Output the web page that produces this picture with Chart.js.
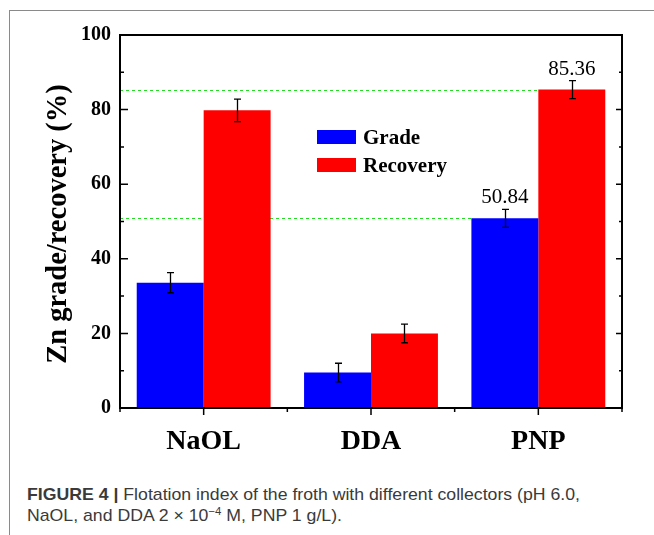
<!DOCTYPE html>
<html><head><meta charset="utf-8">
<script src="https://cdn.jsdelivr.net/npm/chart.js@4.4.0/dist/chart.umd.min.js"></script>
<style>
html,body{margin:0;padding:0;background:#fff;width:654px;height:535px;overflow:hidden;}
#frame{position:absolute;left:9px;top:10px;width:645px;height:525px;border-left:1px solid #8a8a8a;border-top:1px solid #8a8a8a;box-sizing:border-box;}
#wrap{position:absolute;left:0;top:0;width:654px;height:470px;}
.cap{position:absolute;left:27px;white-space:nowrap;font-family:"Liberation Sans",Arial,sans-serif;font-size:17px;line-height:20px;color:#3a3a3a;transform-origin:0 0;}
.cap sup{font-size:11px;line-height:0;vertical-align:6px;}
</style></head>
<body>
<div id="frame"></div>
<div id="wrap"><canvas id="c" width="654" height="470"></canvas></div>
<div class="cap" id="cap1" style="top:485px"><b>FIGURE 4 |</b> Flotation index of the froth with different collectors (pH 6.0,</div>
<div class="cap" id="cap2" style="top:506px">NaOL, and DDA 2 × 10<sup>−4</sup> M, PNP 1 g/L).</div>
<script>
// ---- data ----
const categories = ["NaOL", "DDA", "PNP"];
const gradeValues = [33.6, 9.5, 50.84];
const recoveryValues = [79.8, 20.0, 85.36];
const gradeErrors = [2.7, 2.5, 2.4];
const recoveryErrors = [3.0, 2.5, 2.4];
const yTicks = [0, 20, 40, 60, 80, 100];
const labelledIndex = 2; // PNP values are annotated
const seriesNames = ["Grade", "Recovery"];

const serif = '"Liberation Serif","Times New Roman",serif';
const errs = [gradeErrors, recoveryErrors];

const overlay = {
  id: 'overlay',
  beforeDatasetsDraw(chart) {
    const ctx = chart.ctx, ya = chart.scales.y, ca = chart.chartArea;
    ctx.save();
    ctx.strokeStyle = '#22dd22';
    ctx.lineWidth = 1;
    ctx.setLineDash([3, 3]);
    chart.data.datasets.forEach((ds, i) => {
      const bar = chart.getDatasetMeta(i).data[labelledIndex];
      const y = Math.round(ya.getPixelForValue(ds.data[labelledIndex])) + 0.5;
      ctx.beginPath();
      ctx.moveTo(ca.left, y);
      ctx.lineTo(bar.x - bar.width / 2, y);
      ctx.stroke();
    });
    ctx.restore();
  },
  afterDatasetsDraw(chart) {
    const ctx = chart.ctx, ya = chart.scales.y, xa = chart.scales.x, ca = chart.chartArea;
    ctx.save();
    // error bars + labels
    chart.data.datasets.forEach((ds, i) => {
      const meta = chart.getDatasetMeta(i);
      meta.data.forEach((bar, j) => {
        const v = ds.data[j], e = errs[i][j];
        const yt = ya.getPixelForValue(v + e), yb = ya.getPixelForValue(v - e);
        const x = Math.round(bar.x) + 0.5;
        ctx.strokeStyle = '#000';
        ctx.lineWidth = 1.3;
        ctx.beginPath();
        ctx.moveTo(x, yt); ctx.lineTo(x, yb);
        ctx.moveTo(x - 3.5, yt); ctx.lineTo(x + 3.5, yt);
        ctx.moveTo(x - 3.5, yb); ctx.lineTo(x + 3.5, yb);
        ctx.stroke();
        if (j === labelledIndex) {
          ctx.fillStyle = '#000';
          ctx.font = '21px ' + serif;
          ctx.textAlign = 'center';
          ctx.textBaseline = 'alphabetic';
          ctx.fillText(v.toFixed(2), bar.x, yt - 6);
        }
      });
    });
    // frame
    ctx.strokeStyle = '#000';
    ctx.lineWidth = 2;
    ctx.strokeRect(ca.left, ca.top, ca.right - ca.left, ca.bottom - ca.top);
    // y ticks (inward)
    ctx.lineWidth = 1.5;
    ctx.beginPath();
    const yt = ya.ticks.map(t => t.value);
    yt.forEach((v, k) => {
      const y = ya.getPixelForValue(v);
      ctx.moveTo(ca.left, y); ctx.lineTo(ca.left + 8, y);
      ctx.moveTo(ca.right, y); ctx.lineTo(ca.right - 6, y);
      if (k < yt.length - 1) {
        const ym = ya.getPixelForValue((v + yt[k + 1]) / 2);
        ctx.moveTo(ca.left, ym); ctx.lineTo(ca.left + 4, ym);
        ctx.moveTo(ca.right, ym); ctx.lineTo(ca.right - 3, ym);
      }
    });
    // x ticks (outward)
    categories.forEach((c, i) => {
      const x = xa.getPixelForValue(i);
      ctx.moveTo(x, ca.bottom); ctx.lineTo(x, ca.bottom + 7);
    });
    for (let i = -1; i < categories.length; i++) {
      const x = xa.getPixelForValue(i + 0.5);
      ctx.moveTo(x, ca.bottom); ctx.lineTo(x, ca.bottom + 4);
    }
    ctx.stroke();
    // legend
    ctx.font = 'bold 21px ' + serif;
    ctx.textAlign = 'left';
    ctx.textBaseline = 'alphabetic';
    chart.data.datasets.forEach((ds, i) => {
      const top = 130 + i * 28;
      ctx.fillStyle = ds.backgroundColor;
      ctx.fillRect(317, top, 39, 14);
      ctx.fillStyle = '#000';
      ctx.fillText(ds.label, 363, top + 14);
    });
    // y title
    ctx.save();
    ctx.translate(66, 224);
    ctx.rotate(-Math.PI / 2);
    ctx.font = 'bold 28.5px ' + serif;
    ctx.textAlign = 'center';
    ctx.fillText('Zn grade/recovery (%)', 0, 0);
    ctx.restore();
    ctx.restore();
  }
};

new Chart(document.getElementById('c'), {
  type: 'bar',
  data: {
    labels: categories,
    datasets: [
      { label: seriesNames[0], data: gradeValues, backgroundColor: '#0000ff' },
      { label: seriesNames[1], data: recoveryValues, backgroundColor: '#ff0000' }
    ]
  },
  options: {
    responsive: false,
    animation: false,
    events: [],
    layout: { padding: { top: 35, right: 32, left: 0, bottom: 0 } },
    plugins: { legend: { display: false }, tooltip: { enabled: false } },
    datasets: { bar: { categoryPercentage: 0.8, barPercentage: 1.0, borderWidth: 0 } },
    scales: {
      x: {
        type: 'category',
        offset: true,
        grid: { display: false, drawTicks: false },
        border: { display: false },
        ticks: { color: '#000', font: { family: serif, size: 28, weight: 'bold' }, padding: 17 },
        afterFit(s) { s.height = 62; }
      },
      y: {
        min: 0, max: 100,
        afterBuildTicks(s) { s.ticks = yTicks.map(v => ({ value: v })); },
        grid: { display: false, drawTicks: false },
        border: { display: false },
        ticks: { color: '#000', font: { family: serif, size: 20, weight: 'bold' }, padding: 9 },
        afterFit(s) { s.width = 120; }
      }
    }
  },
  plugins: [overlay]
});

// fit caption width to the reference line length
const c1 = document.getElementById('cap1'), c2 = document.getElementById('cap2');
const w = c1.getBoundingClientRect().width;
const sx = 553 / w;
c1.style.transform = c2.style.transform = 'scaleX(' + sx + ')';
</script>
</body></html>
